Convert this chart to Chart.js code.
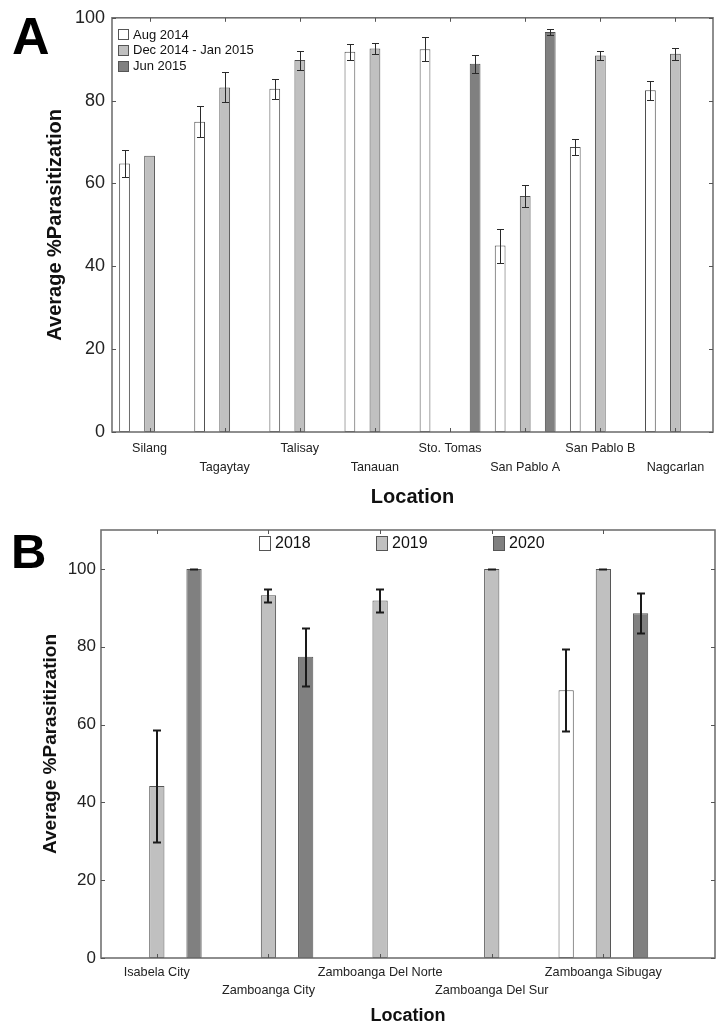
<!DOCTYPE html>
<html><head><meta charset="utf-8">
<script src="https://cdn.jsdelivr.net/npm/chart.js@4.4.1/dist/chart.umd.min.js"></script>
<style>
html,body{margin:0;padding:0;background:#fff}
body{width:728px;height:1030px;position:relative;overflow:hidden;font-family:"Liberation Sans",Arial,sans-serif}
canvas{position:absolute;left:0}
.lbl{position:absolute;font-weight:bold;line-height:1;color:#000;font-family:"Liberation Sans",Arial,sans-serif}
</style></head><body>
<canvas id="cA" width="728" height="512" style="top:0"></canvas>
<canvas id="cB" width="728" height="518" style="top:512px"></canvas>
<div class="lbl" style="left:12px;top:10px;font-size:52px">A</div>
<div class="lbl" style="left:11px;top:527px;font-size:49px">B</div>
<script>
// ---------- Panel A data ----------
const locationsA = ['Silang','Tagaytay','Talisay','Tanauan','Sto. Tomas','San Pablo A','San Pablo B','Nagcarlan'];
const seriesA = ['Aug 2014','Dec 2014 - Jan 2015','Jun 2015'];
const aug2014    = [64.8, 74.9, 82.9, 91.8, 92.4, 45.0, 68.8, 82.5];
const aug2014Err = [3.3, 3.7, 2.4, 1.9, 2.9, 4.1, 2.0, 2.3];
const dec2014    = [66.7, 83.2, 89.8, 92.6, null, 57.0, 90.9, 91.3];
const dec2014Err = [null, 3.6, 2.3, 1.4, null, 2.6, 1.2, 1.5];
const jun2015    = [null, null, null, null, 88.9, 96.6, null, null];
const jun2015Err = [null, null, null, null, 2.2, 0.8, null, null];
const yTicksA = [0, 20, 40, 60, 80, 100];

// ---------- Panel B data ----------
const locationsB = ['Isabela City','Zamboanga City','Zamboanga Del Norte','Zamboanga Del Sur','Zamboanga Sibugay'];
const seriesB = ['2018','2019','2020'];
const y2018    = [null, null, null, null, 68.8];
const y2018Err = [null, null, null, null, 10.5];
const y2019    = [44.2, 93.2, 91.9, 100, 100];
const y2019Err = [14.4, 1.6, 2.9, 0, 0];
const y2020    = [100, 77.4, null, null, 88.6];
const y2020Err = [0, 7.4, null, null, 5.1];
const yTicksB = [0, 20, 40, 60, 80, 100];

const FAM = '"Liberation Sans", Arial, sans-serif';
const fills = ['#ffffff', '#c0c0c0', '#808080'];

const framePlugin = {
  id: 'frame',
  afterDatasetsDraw(chart, args, o) {
    const {ctx, chartArea: a, scales: {x, y}} = chart;
    ctx.save();
    ctx.strokeStyle = o.color; ctx.lineWidth = o.width;
    ctx.strokeRect(a.left, a.top, a.right - a.left, a.bottom - a.top);
    ctx.lineWidth = 1; ctx.strokeStyle = o.tickColor;
    const L = o.tick;
    ctx.beginPath();
    x.ticks.forEach((t, i) => {
      const px = Math.round(x.getPixelForTick(i)) + 0.5;
      ctx.moveTo(px, a.top); ctx.lineTo(px, a.top + L);
      ctx.moveTo(px, a.bottom); ctx.lineTo(px, a.bottom - L);
    });
    y.ticks.forEach(t => {
      const py = Math.round(y.getPixelForValue(t.value)) + 0.5;
      ctx.moveTo(a.left, py); ctx.lineTo(a.left + L, py);
      ctx.moveTo(a.right, py); ctx.lineTo(a.right - L, py);
    });
    ctx.stroke();
    ctx.restore();
  }
};

const errorPlugin = {
  id: 'errbars',
  afterDatasetsDraw(chart, args, o) {
    const {ctx, scales: {y}} = chart;
    ctx.save();
    ctx.strokeStyle = o.color; ctx.lineWidth = o.width;
    chart.data.datasets.forEach((ds, di) => {
      const meta = chart.getDatasetMeta(di);
      (ds.errorBars || []).forEach((e, i) => {
        const el = meta.data[i];
        const p = meta.controller.getParsed(i);
        if (e == null || !el || !p || p.y == null || isNaN(p.y)) return;
        const v = p.y;
        const cx = o.width % 2 ? Math.round(el.x) + 0.5 : Math.round(el.x);
        const top = Math.round(y.getPixelForValue(v + e)) + 0.5;
        const bot = Math.round(y.getPixelForValue(v - e)) + 0.5;
        const hw = o.cap / 2;
        ctx.beginPath();
        ctx.moveTo(cx, top); ctx.lineTo(cx, bot);
        ctx.moveTo(cx - hw, top); ctx.lineTo(cx + hw, top);
        ctx.moveTo(cx - hw, bot); ctx.lineTo(cx + hw, bot);
        ctx.stroke();
      });
    });
    ctx.restore();
  }
};

const boxLegend = {
  id: 'boxLegend',
  afterDraw(chart, args, o) {
    const {ctx, chartArea: a} = chart;
    ctx.save();
    ctx.font = o.font; ctx.textBaseline = 'middle'; ctx.textAlign = 'left';
    chart.data.datasets.forEach((ds, i) => {
      const bx = Math.round(a.left + o.x + i * o.dx), by = a.top + o.y + i * o.dy;
      const ty = Math.round(by - o.h / 2);
      ctx.fillStyle = ds.backgroundColor; ctx.fillRect(bx, ty, o.w, o.h);
      ctx.strokeStyle = o.border; ctx.lineWidth = 1;
      ctx.strokeRect(bx + 0.5, ty + 0.5, o.w - 1, o.h - 1);
      ctx.fillStyle = o.color;
      ctx.fillText(ds.label, bx + o.w + o.gap, by + 0.5);
    });
    ctx.restore();
  }
};

// ---------- Chart A ----------
new Chart(document.getElementById('cA'), {
  type: 'bar',
  data: {
    labels: locationsA,
    datasets: [
      {label: seriesA[0], data: aug2014, errorBars: aug2014Err, backgroundColor: fills[0]},
      {label: seriesA[1], data: dec2014, errorBars: dec2014Err, backgroundColor: fills[1]},
      {label: seriesA[2], data: jun2015, errorBars: jun2015Err, backgroundColor: fills[2]}
    ].map(d => Object.assign(d, {borderColor: '#4d4d4d', borderWidth: 1, borderSkipped: false,
                                  categoryPercentage: 1, barPercentage: 0.43}))
  },
  options: {
    responsive: false, animation: false, events: [],
    layout: {padding: {top: 16, right: 15, left: 0, bottom: 0}},
    plugins: {
      legend: {display: false}, tooltip: {enabled: false},
      frame: {color: '#727272', width: 1.6, tick: 4, tickColor: '#555'},
      errbars: {color: '#2a2a2a', width: 1, cap: 7},
      boxLegend: {font: '13px ' + FAM, color: '#111', border: '#555', x: 6, y: 17, dx: 0, dy: 15.6, w: 11, h: 11, gap: 4}
    },
    scales: {
      x: {
        type: 'category', offset: true,
        grid: {display: false, drawTicks: false}, border: {display: false},
        ticks: {autoSkip: false, maxRotation: 0, padding: 7.2, color: '#222',
          font: {family: FAM, size: 12.6, lineHeight: 1.52},
          callback: (v, i) => i % 2 ? ['', locationsA[i]] : locationsA[i]},
        title: {display: true, text: 'Location', color: '#111',
          font: {family: FAM, size: 20, weight: 'bold', lineHeight: 1.2}, padding: {top: 0, bottom: 3}},
        afterFit: s => { s.height = 80; }
      },
      y: {
        min: 0, max: 100,
        grid: {display: false, drawTicks: false}, border: {display: false},
        afterBuildTicks: s => { s.ticks = yTicksA.map(v => ({value: v})); },
        ticks: {padding: 7, color: '#222', font: {family: FAM, size: 18}},
        title: {display: true, text: 'Average %Parasitization', color: '#111',
          font: {family: FAM, size: 20, weight: 'bold', lineHeight: 1.2}, padding: {top: 43, bottom: 0}},
        afterFit: s => { s.width = 112; }
      }
    }
  },
  plugins: [framePlugin, errorPlugin, boxLegend]
});

// ---------- Chart B ----------
const toXY = arr => arr.map((v, i) => ({x: i + 1, y: v}));
new Chart(document.getElementById('cB'), {
  type: 'bar',
  data: {
    datasets: [
      {label: seriesB[0], data: toXY(y2018), errorBars: y2018Err, backgroundColor: fills[0]},
      {label: seriesB[1], data: toXY(y2019), errorBars: y2019Err, backgroundColor: fills[1]},
      {label: seriesB[2], data: toXY(y2020), errorBars: y2020Err, backgroundColor: fills[2]}
    ].map(d => Object.assign(d, {borderColor: '#555555', borderWidth: 1, borderSkipped: false,
                                  categoryPercentage: 1, barPercentage: 0.41}))
  },
  options: {
    responsive: false, animation: false, events: [],
    layout: {padding: {top: 18, right: 13, left: 0, bottom: 0}},
    plugins: {
      legend: {display: false}, tooltip: {enabled: false},
      frame: {color: '#727272', width: 1.6, tick: 4, tickColor: '#555'},
      errbars: {color: '#1a1a1a', width: 2, cap: 8},
      boxLegend: {font: '16px ' + FAM, color: '#111', border: '#555', x: 158, y: 13, dx: 117, dy: 0, w: 12, h: 15, gap: 4}
    },
    scales: {
      x: {
        type: 'linear', min: 0.5, max: 6.0, offset: false,
        grid: {display: false, drawTicks: false, offset: false}, border: {display: false},
        afterBuildTicks: s => { s.ticks = locationsB.map((_, i) => ({value: i + 1})); },
        ticks: {autoSkip: false, maxRotation: 0, padding: 5, color: '#222',
          font: {family: FAM, size: 12.7, lineHeight: 1.42},
          callback: (v, i) => i % 2 ? ['', locationsB[i]] : locationsB[i]},
        title: {display: true, text: 'Location', color: '#111',
          font: {family: FAM, size: 18, weight: 'bold', lineHeight: 1.2}, padding: {top: 0, bottom: 3.2}},
        afterFit: s => { s.height = 72; }
      },
      y: {
        min: 0, max: 110,
        grid: {display: false, drawTicks: false}, border: {display: false},
        afterBuildTicks: s => { s.ticks = yTicksB.map(v => ({value: v})); },
        ticks: {padding: 5, color: '#222', font: {family: FAM, size: 17}},
        title: {display: true, text: 'Average %Parasitization', color: '#111',
          font: {family: FAM, size: 19, weight: 'bold', lineHeight: 1.2}, padding: {top: 39.6, bottom: 0}},
        afterFit: s => { s.width = 101; }
      }
    }
  },
  plugins: [framePlugin, errorPlugin, boxLegend]
});
</script>
</body></html>
